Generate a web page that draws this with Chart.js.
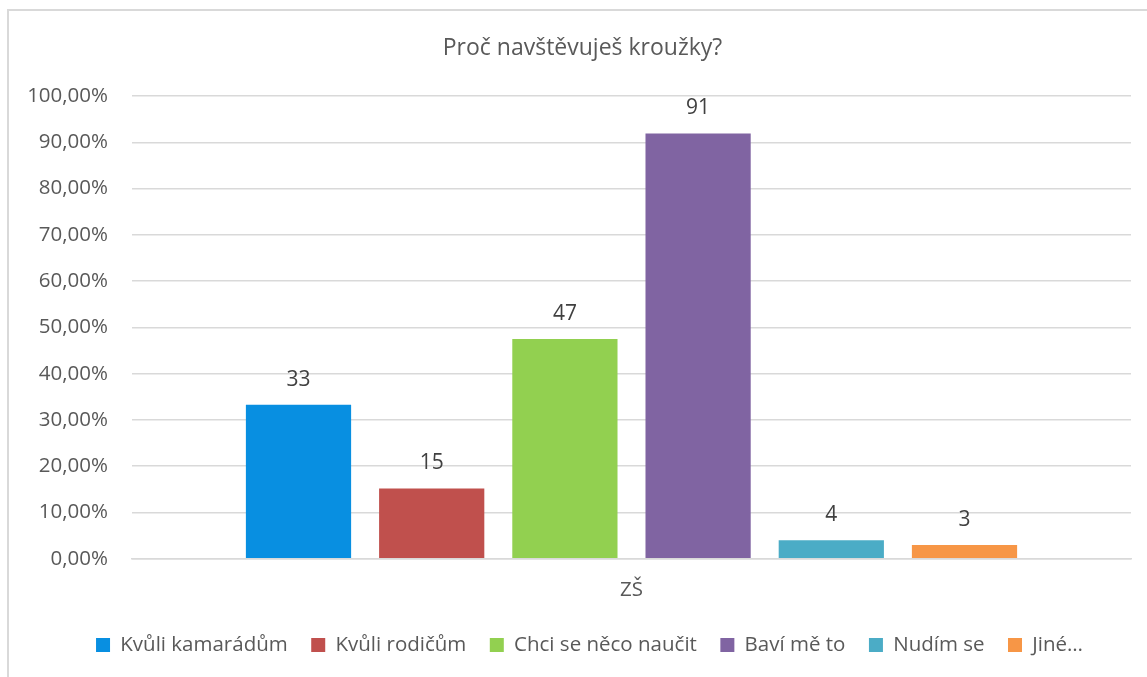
<!DOCTYPE html>
<html>
<head>
<meta charset="utf-8">
<script src="https://cdn.jsdelivr.net/npm/chart.js@4/dist/chart.umd.min.js"></script>
<style>
  html, body { margin: 0; padding: 0; background: #ffffff; overflow: hidden; }
  #frame { position: absolute; left: 7px; top: 9px; width: 1200px; height: 700px;
           border-left: 2px solid #d9d9d9; border-top: 2px solid #d9d9d9; box-sizing: border-box; }
  #c { position: absolute; left: 0; top: 0; }
</style>
</head>
<body>
<div id="frame"></div>
<canvas id="c" width="1147" height="677"></canvas>
<script>
const titleText = 'Proč navštěvuješ kroužky?';
const categories = ['ZŠ'];
const seriesNames = ['Kvůli kamarádům', 'Kvůli rodičům', 'Chci se něco naučit', 'Baví mě to', 'Nudím se', 'Jiné…'];
const seriesPercent = [33.3, 15.2, 47.5, 91.9, 4.0, 3.0];
const seriesCounts = [33, 15, 47, 91, 4, 3];
const seriesColors = ['#088fe1', '#c0504d', '#92d050', '#8064a2', '#4bacc6', '#f79646'];
const yTicks = [0, 10, 20, 30, 40, 50, 60, 70, 80, 90, 100];

const FONT = "'Open Sans', 'Noto Sans', sans-serif";

const datasets = seriesNames.map((name, i) => ({
  label: name,
  data: [seriesPercent[i]],
  backgroundColor: seriesColors[i],
  borderWidth: 0,
  categoryPercentage: 0.8,
  barPercentage: 0.79
}));

const valueLabels = {
  id: 'valueLabels',
  afterDatasetsDraw(chart) {
    const ctx = chart.ctx;
    ctx.save();
    ctx.font = '21px ' + FONT;
    ctx.fillStyle = '#404040';
    ctx.textAlign = 'center';
    ctx.textBaseline = 'middle';
    chart.data.datasets.forEach((ds, i) => {
      const meta = chart.getDatasetMeta(i);
      meta.data.forEach((bar) => {
        ctx.fillText(String(seriesCounts[i]), bar.x, bar.y - 25);
      });
    });
    ctx.restore();
  }
};

const shiftBlocks = {
  id: 'shiftBlocks',
  afterLayout(chart) {
    if (chart.titleBlock) { chart.titleBlock.left += 5; chart.titleBlock.right += 5; }
    if (chart.legend) { chart.legend.left += 12; chart.legend.right += 12; }
  }
};

new Chart(document.getElementById('c'), {
  type: 'bar',
  data: { labels: categories, datasets: datasets },
  plugins: [valueLabels, shiftBlocks],
  options: {
    responsive: false,
    animation: false,
    layout: { padding: { left: 24, right: 16, top: 10, bottom: 11.7 } },
    plugins: {
      title: {
        display: true,
        text: titleText,
        color: '#595959',
        font: { family: FONT, size: 23, weight: 'normal', lineHeight: 1.2 },
        padding: { top: 24.2, bottom: 34.2 }
      },
      legend: {
        position: 'bottom',
        labels: {
          color: '#595959',
          font: { family: FONT, size: 20.5 },
          boxWidth: 14,
          boxHeight: 14,
          padding: 23.5
        }
      },
      tooltip: { enabled: false }
    },
    scales: {
      x: {
        grid: { display: false, drawTicks: false },
        border: { display: true, color: '#d9d9d9', width: 1.5 },
        ticks: { color: '#595959', font: { family: FONT, size: 20.5 }, padding: 18.7 },
        afterFit(scale) { scale.height -= 9.5; }
      },
      y: {
        min: 0,
        max: 100,
        afterBuildTicks(scale) { scale.ticks = yTicks.map(v => ({ value: v })); },
        afterFit(scale) { scale.width = 108; },
        grid: { color: '#d9d9d9', lineWidth: 1.5, drawTicks: false },
        border: { display: false },
        ticks: {
          color: '#595959',
          font: { family: FONT, size: 20.5 },
          padding: 24,
          callback: (v) => Number(v).toFixed(2).replace('.', ',') + '%'
        }
      }
    }
  }
});
</script>
</body>
</html>
